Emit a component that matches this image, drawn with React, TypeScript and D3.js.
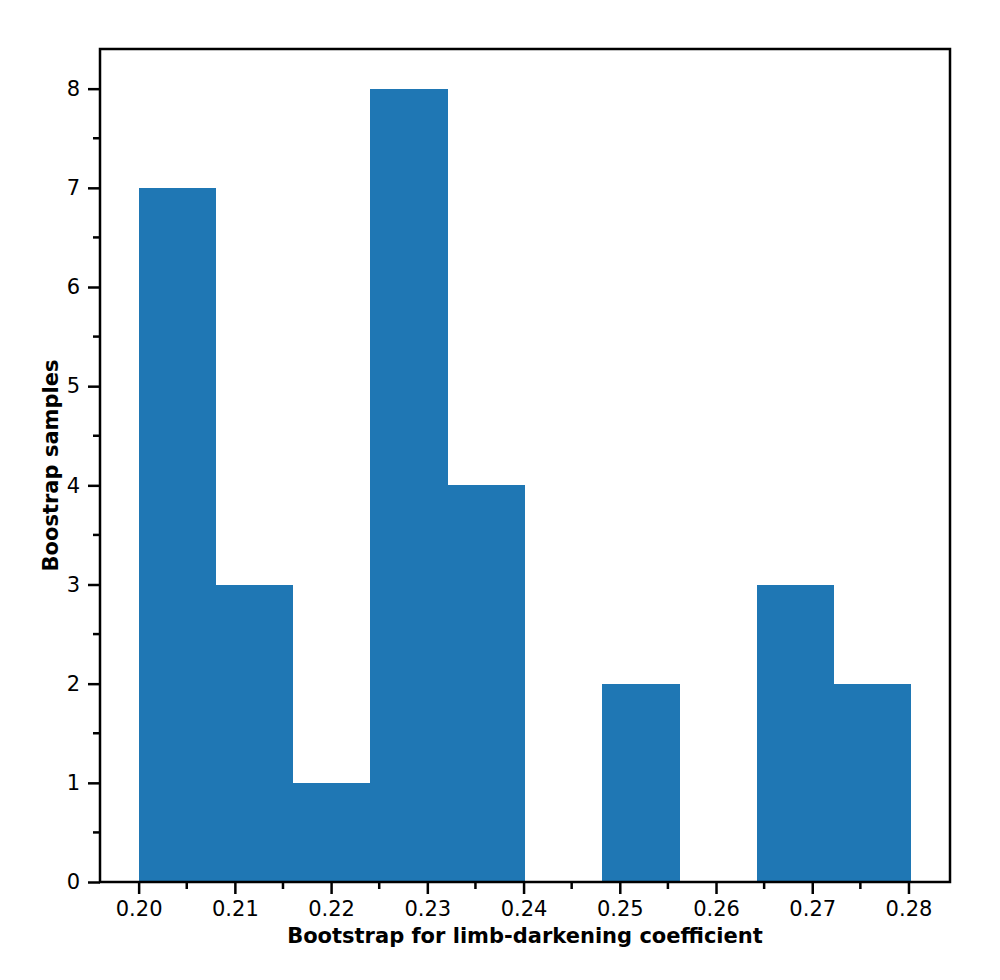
import { useEffect, useRef } from "react";
import * as d3 from "d3";

// histogram of bootstrap samples (10 equal bins)
const binStart = 0.2;
const binEnd = 0.2803;
const counts = [7, 3, 1, 8, 4, 0, 2, 0, 3, 2];
const xTicks = [0.2, 0.21, 0.22, 0.23, 0.24, 0.25, 0.26, 0.27, 0.28];
const yTicks = [0, 1, 2, 3, 4, 5, 6, 7, 8];
const xLabel = "Bootstrap for limb-darkening coefficient";
const yLabel = "Boostrap samples";

const App = () => {
  const ref = useRef<SVGSVGElement | null>(null);

  useEffect(() => {
    const svg = d3.select(ref.current);
    svg.selectAll("*").remove();

    const width = 1000;
    const height = 980;
    const margin = { top: 49, right: 50, bottom: 98, left: 100 };
    const font = "DejaVu Sans, sans-serif";

    const span = binEnd - binStart;
    const x = d3
      .scaleLinear()
      .domain([binStart - span * 0.05, binEnd + span * 0.05])
      .range([margin.left, width - margin.right]);
    const y = d3
      .scaleLinear()
      .domain([0, 8 * 1.05])
      .range([height - margin.bottom, margin.top]);

    const binW = span / counts.length;
    const bins = counts.map((c, i) => ({ x0: binStart + i * binW, x1: binStart + (i + 1) * binW, c }));

    svg
      .append("rect")
      .attr("width", width)
      .attr("height", height)
      .attr("fill", "#fff");

    svg
      .append("g")
      .selectAll("rect")
      .data(bins.filter((b) => b.c > 0))
      .join("rect")
      .attr("x", (d) => x(d.x0))
      .attr("width", (d) => x(d.x1) - x(d.x0))
      .attr("y", (d) => y(d.c))
      .attr("height", (d) => y(0) - y(d.c))
      .attr("fill", "#1f77b4")
      .attr("shape-rendering", "crispEdges");

    // x axis
    const xMinor = d3.range(0.195, 0.2851, 0.005).filter(
      (v) => !xTicks.some((t) => Math.abs(t - v) < 1e-6) && v >= x.domain()[0] && v <= x.domain()[1]
    );
    const gx = svg.append("g").attr("transform", `translate(0,${height - margin.bottom})`);
    gx.call(
      d3.axisBottom(x).tickValues(xTicks).tickFormat(d3.format(".2f")).tickSize(12).tickPadding(7)
    );
    gx.select(".domain").remove();
    gx.selectAll(".tick line").attr("stroke-width", 2.5);
    gx.selectAll("text").attr("font-family", font).attr("font-size", 21).attr("fill", "#000");
    gx.selectAll(".minor")
      .data(xMinor)
      .join("line")
      .attr("class", "minor")
      .attr("x1", (d) => x(d))
      .attr("x2", (d) => x(d))
      .attr("y1", 0)
      .attr("y2", 7)
      .attr("stroke", "#000")
      .attr("stroke-width", 2.5);

    // y axis
    const yMinor = d3.range(0.5, 8.4, 1);
    const gy = svg.append("g").attr("transform", `translate(${margin.left},0)`);
    gy.call(d3.axisLeft(y).tickValues(yTicks).tickFormat(d3.format("d")).tickSize(12).tickPadding(8));
    gy.select(".domain").remove();
    gy.selectAll(".tick line").attr("stroke-width", 2.5);
    gy.selectAll("text").attr("font-family", font).attr("font-size", 21).attr("fill", "#000");
    gy.selectAll(".minor")
      .data(yMinor)
      .join("line")
      .attr("class", "minor")
      .attr("y1", (d) => y(d))
      .attr("y2", (d) => y(d))
      .attr("x1", 0)
      .attr("x2", -7)
      .attr("stroke", "#000")
      .attr("stroke-width", 2.5);

    // spines
    svg
      .append("rect")
      .attr("x", margin.left)
      .attr("y", margin.top)
      .attr("width", width - margin.left - margin.right)
      .attr("height", height - margin.top - margin.bottom)
      .attr("fill", "none")
      .attr("stroke", "#000")
      .attr("stroke-width", 2.5);

    svg
      .append("text")
      .attr("x", (margin.left + width - margin.right) / 2)
      .attr("y", 943)
      .attr("text-anchor", "middle")
      .attr("font-family", font)
      .attr("font-size", 21)
      .attr("font-weight", "bold")
      .text(xLabel);

    svg
      .append("text")
      .attr("transform", `translate(58,${(margin.top + height - margin.bottom) / 2}) rotate(-90)`)
      .attr("text-anchor", "middle")
      .attr("font-family", font)
      .attr("font-size", 21)
      .attr("font-weight", "bold")
      .text(yLabel);
  }, []);

  return (
    <svg
      ref={ref}
      width={1000}
      height={980}
      style={{ position: "absolute", left: 0, top: 0, display: "block" }}
    />
  );
};

export default App;
